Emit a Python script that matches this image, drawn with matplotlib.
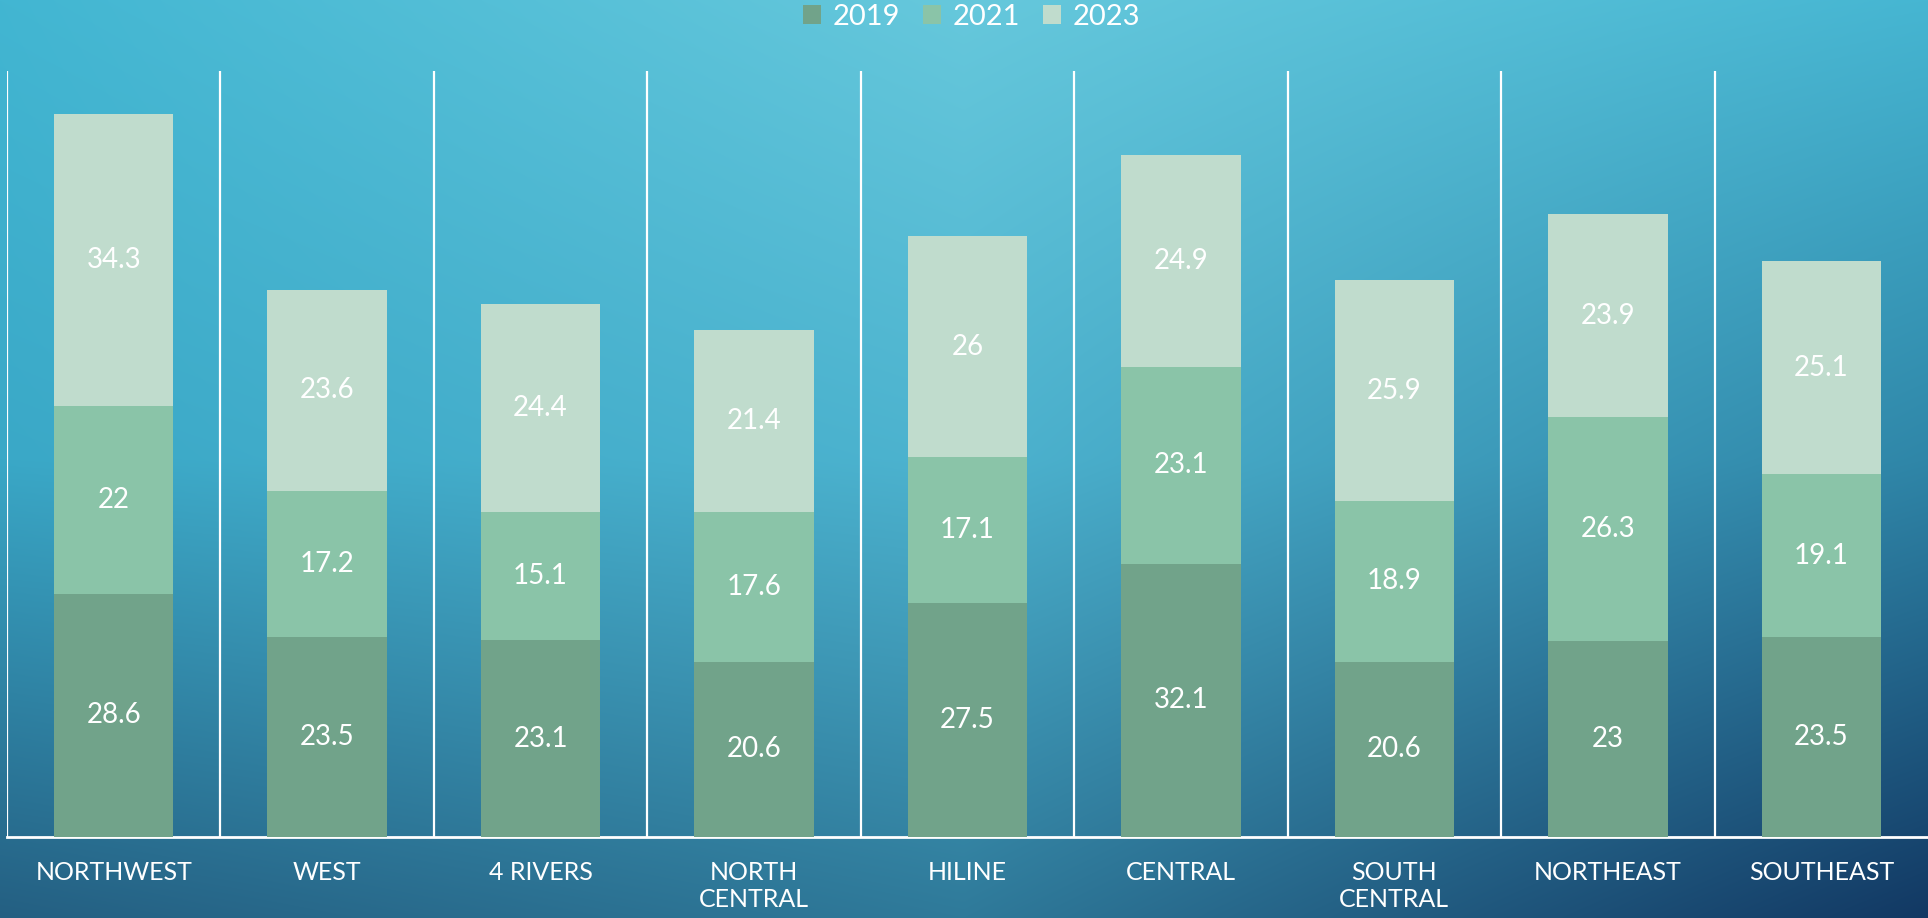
import numpy as np
import matplotlib
matplotlib.use('Agg')
import matplotlib.pyplot as plt

categories = ['NORTHWEST', 'WEST', '4 RIVERS', 'NORTH\nCENTRAL', 'HILINE',
              'CENTRAL', 'SOUTH\nCENTRAL', 'NORTHEAST', 'SOUTHEAST']
years = ['2019', '2021', '2023']
v2019 = [28.6, 23.5, 23.1, 20.6, 27.5, 32.1, 20.6, 23, 23.5]
v2021 = [22, 17.2, 15.1, 17.6, 17.1, 23.1, 18.9, 26.3, 19.1]
v2023 = [34.3, 23.6, 24.4, 21.4, 26, 24.9, 25.9, 23.9, 25.1]
colors = ['#71A38A', '#8AC4A8', '#C0DCCD']

plt.rcParams['font.family'] = ['Lato', 'DejaVu Sans']

W, H = 1928, 918
fig = plt.figure(figsize=(W / 100, H / 100), dpi=100)

# background gradient (3x3 control colours, interpolated)
def hx(c):
    return np.array([int(c[i:i + 2], 16) for i in (1, 3, 5)]) / 255.0

ctrl = np.array([
    [hx('#42B6D2'), hx('#66C8DC'), hx('#46B6D2')],
    [hx('#3AA8C7'), hx('#4DB3CF'), hx('#2F86A8')],
    [hx('#245F82'), hx('#2F7A9A'), hx('#123863')],
])
xs = np.linspace(0, 2, W)
ys = np.linspace(0, 2, H)
img = np.zeros((H, W, 3))
for ch in range(3):
    rows = np.array([np.interp(xs, [0, 1, 2], ctrl[r, :, ch]) for r in range(3)])
    img[:, :, ch] = np.array([np.interp(ys, [0, 1, 2], rows[:, j]) for j in range(W)]).T
bg = fig.add_axes([0, 0, 1, 1])
bg.imshow(img, aspect='auto', extent=[0, 1, 0, 1], zorder=0)
bg.axis('off')

ax = fig.add_axes([7 / W, 1 - 837 / H, 1 - 7 / W, (837 - 71) / H])
ax.patch.set_alpha(0)

x = np.arange(len(categories))
bottom = np.zeros(len(categories))
for yr, vals, col in zip(years, [v2019, v2021, v2023], colors):
    bars = ax.bar(x, vals, 0.56, bottom=bottom, color=col, label=yr, zorder=3)
    for b, v, b0 in zip(bars, vals, bottom):
        ax.text(b.get_x() + b.get_width() / 2, b0 + v / 2, '%g' % v,
                ha='center', va='center', color='white', fontsize=20, zorder=4)
    bottom += np.array(vals)

ax.set_xlim(-0.5, len(categories) - 0.5)
ax.set_ylim(0, 90)
ax.set_xticks(x)
ax.set_xticklabels(categories, color='white', fontsize=18, linespacing=1.25)
ax.tick_params(axis='x', length=0, pad=17)
ax.set_xticks(np.arange(len(categories)) - 0.5, minor=True)
ax.tick_params(axis='x', which='minor', length=0)
ax.grid(True, axis='x', which='minor', color='white', lw=1.6, zorder=1)
ax.set_yticks([])
for s in ['top', 'right', 'left']:
    ax.spines[s].set_visible(False)
ax.spines['bottom'].set_color('white')
ax.spines['bottom'].set_linewidth(2)

fig.legend(loc='center', bbox_to_anchor=(0.504, 1 - 17 / H), ncol=3, frameon=False,
           labelcolor='white', fontsize=21, handlelength=0.6, handleheight=0.6,
           handletextpad=0.4, columnspacing=0.8)

fig.savefig('out.png', dpi=100)
